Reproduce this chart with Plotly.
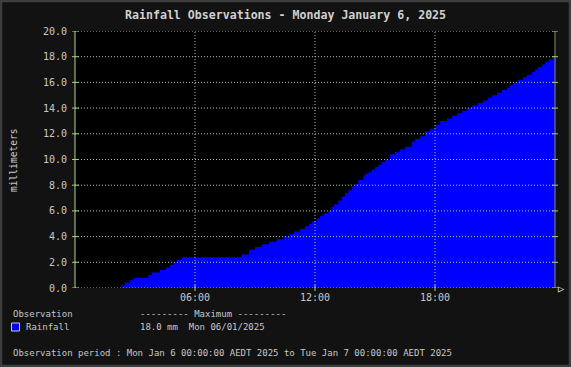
import plotly.graph_objects as go

# ---- data ----
times = ["00:00", "02:20", "02:30", "02:43", "02:55", "03:40", "03:50", "04:15", "04:33",
         "04:45", "04:55", "05:05", "05:20", "08:20", "08:43", "09:00", "09:20", "09:42",
         "10:05", "10:25", "10:45", "10:57", "11:15", "11:30", "11:42", "11:51", "12:05",
         "12:15", "12:25", "12:40", "12:50", "12:57", "13:10", "13:20", "13:30", "13:40",
         "13:50", "14:00", "14:10", "14:25", "14:30", "14:40", "14:50", "15:00", "15:10",
         "15:20", "15:30", "15:45", "16:00", "16:15", "16:30", "16:50", "17:00", "17:15",
         "17:30", "17:45", "18:00", "18:15", "18:36", "18:51", "19:06", "19:21", "19:36",
         "19:51", "20:09", "20:24", "20:39", "20:51", "21:06", "21:21", "21:36", "21:45",
         "21:54", "22:09", "22:24", "22:36", "22:51", "23:00", "23:09", "23:21", "23:30",
         "23:42", "23:54", "23:59"]
rain_mm = [0.0, 0.2, 0.4, 0.6, 0.8, 1.0, 1.2, 1.4, 1.6,
           1.8, 2.0, 2.2, 2.4, 2.6, 3.0, 3.2, 3.4, 3.6,
           3.8, 4.0, 4.2, 4.4, 4.6, 4.8, 5.0, 5.2, 5.4,
           5.6, 5.8, 6.0, 6.3, 6.5, 6.8, 7.1, 7.4, 7.6,
           7.9, 8.1, 8.4, 8.7, 8.9, 9.0, 9.2, 9.4, 9.6,
           9.8, 10.0, 10.4, 10.6, 10.8, 11.0, 11.4, 11.6, 11.8,
           12.2, 12.4, 12.7, 13.0, 13.2, 13.4, 13.6, 13.8, 14.0,
           14.2, 14.4, 14.6, 14.8, 15.0, 15.2, 15.4, 15.6, 15.8,
           16.0, 16.2, 16.4, 16.6, 16.8, 17.0, 17.2, 17.4, 17.6,
           17.8, 18.0, 18.0]
day = "2025-01-06"
x_tick_vals = ["2025-01-06 06:00", "2025-01-06 12:00", "2025-01-06 18:00"]
x_tick_text = ["06:00", "12:00", "18:00"]
y_tick_vals = [0, 2, 4, 6, 8, 10, 12, 14, 16, 18, 20]
y_tick_text = ["%.1f" % v for v in y_tick_vals]
title_text = "Rainfall Observations - Monday January 6, 2025"
y_title = "millimeters"
series_name = "Rainfall"
max_text = "18.0 mm  Mon 06/01/2025"
period_text = "Observation period : Mon Jan 6 00:00:00 AEDT 2025 to Tue Jan 7 00:00:00 AEDT 2025"

# ---- layout geometry ----
W, H = 571, 367
L, R, T, B = 75, 16, 31, 79
PW, PH = W - L - R, H - T - B
def px(x):
    return (x - L) / PW
def py(y):
    return (H - B - y) / PH

MONO = "DejaVu Sans Mono, Liberation Mono, monospace"
TXT = "#c8c8c8"
GRID = "#a8cc9c"

x_vals = [f"{day} {t}" for t in times]
x_vals[-1] = "2025-01-07 00:00"

fig = go.Figure()
fig.add_trace(go.Scatter(
    x=x_vals, y=rain_mm, mode="lines", line=dict(shape="hv", color="#0000ff", width=0),
    fill="tozeroy", fillcolor="#0000ff", name=series_name, showlegend=False,
    hoverinfo="skip"))

shapes = []
for v in y_tick_vals:
    shapes.append(dict(type="line", xref="paper", yref="y", x0=0, x1=1, y0=v, y1=v,
                       line=dict(color=GRID, width=1, dash="1px,2px"), layer="above"))
for xv in x_tick_vals:
    shapes.append(dict(type="line", xref="x", yref="paper", x0=xv, x1=xv, y0=0, y1=1,
                       line=dict(color=GRID, width=1, dash="1px,2px"), layer="above"))
shapes.append(dict(type="line", xref="paper", yref="paper", x0=0, x1=0, y0=0, y1=1,
                   line=dict(color="#b4d48c", width=1), layer="above"))
shapes.append(dict(type="line", xref="paper", yref="paper", x0=1, x1=1, y0=0, y1=1,
                   line=dict(color="#8c8c50", width=1), layer="above"))
for v in y_tick_vals:
    shapes.append(dict(type="line", xref="paper", yref="y", x0=px(72), x1=px(79), y0=v, y1=v,
                       line=dict(color="#9cd08c", width=1), layer="above"))
    shapes.append(dict(type="line", xref="paper", yref="y", x0=px(552), x1=px(558), y0=v, y1=v,
                       line=dict(color="#9cd08c", width=1), layer="above"))
for xv in x_tick_vals:
    shapes.append(dict(type="line", xref="x", yref="paper", x0=xv, x1=xv, y0=py(285), y1=py(291),
                       line=dict(color="#9cd08c", width=1), layer="above"))
shapes.append(dict(type="rect", xref="paper", yref="paper", x0=px(11.5), x1=px(19.5),
                   y0=py(331), y1=py(323), fillcolor="#0000ff",
                   line=dict(color="#c8c8c8", width=1)))
shapes.append(dict(type="rect", xref="paper", yref="paper", x0=px(1), x1=px(570),
                   y0=py(366), y1=py(1), line=dict(color="#3e3e3e", width=2.5)))

annotations = [
    dict(text=title_text, xref="paper", yref="paper", x=px(285), y=py(15),
         xanchor="center", yanchor="middle", showarrow=False,
         font=dict(family=MONO, size=11.6, color="#d0d0d0", weight="bold")),
    dict(text=y_title, xref="paper", yref="paper", x=px(13), y=py(160), textangle=-90,
         xanchor="center", yanchor="middle", showarrow=False,
         font=dict(family=MONO, size=9.6, color=TXT)),
    dict(text="▷", xref="paper", yref="paper", x=px(556), y=py(288.5),
         xanchor="left", yanchor="middle", showarrow=False,
         font=dict(family=MONO, size=10, color="#ffffff")),
    dict(text="Observation", xref="paper", yref="paper", x=px(11), y=py(314),
         xanchor="left", yanchor="middle", showarrow=False,
         font=dict(family=MONO, size=9, color=TXT)),
    dict(text="--------- Maximum ---------", xref="paper", yref="paper", x=px(138), y=py(314),
         xanchor="left", yanchor="middle", showarrow=False,
         font=dict(family=MONO, size=9, color=TXT)),
    dict(text=series_name, xref="paper", yref="paper", x=px(24), y=py(327),
         xanchor="left", yanchor="middle", showarrow=False,
         font=dict(family=MONO, size=9, color=TXT)),
    dict(text=max_text.replace("  ", "&nbsp; "), xref="paper", yref="paper", x=px(138), y=py(327),
         xanchor="left", yanchor="middle", showarrow=False,
         font=dict(family=MONO, size=9, color=TXT)),
    dict(text=period_text, xref="paper", yref="paper", x=px(11), y=py(353),
         xanchor="left", yanchor="middle", showarrow=False,
         font=dict(family=MONO, size=9, color=TXT)),
]

fig.update_layout(
    width=W, height=H, margin=dict(l=L, r=R, t=T, b=B),
    paper_bgcolor="#121212", plot_bgcolor="#000000",
    showlegend=False, shapes=shapes, annotations=annotations,
    xaxis=dict(type="date", range=["2025-01-06 00:00", "2025-01-07 00:00"],
               tickvals=x_tick_vals, ticktext=x_tick_text, showgrid=False, zeroline=False,
               showline=False, ticks="", tickfont=dict(family=MONO, size=10, color=TXT),
               ticklabelstandoff=2, fixedrange=True),
    yaxis=dict(range=[0, 20], tickvals=y_tick_vals, ticktext=y_tick_text, showgrid=False,
               zeroline=False, showline=False, ticks="",
               tickfont=dict(family=MONO, size=10, color=TXT), ticklabelstandoff=7,
               fixedrange=True),
)

fig.write_html("out.html", config={"displayModeBar": False},
               post_script="document.body.style.margin='0';document.body.style.overflow='hidden';")
